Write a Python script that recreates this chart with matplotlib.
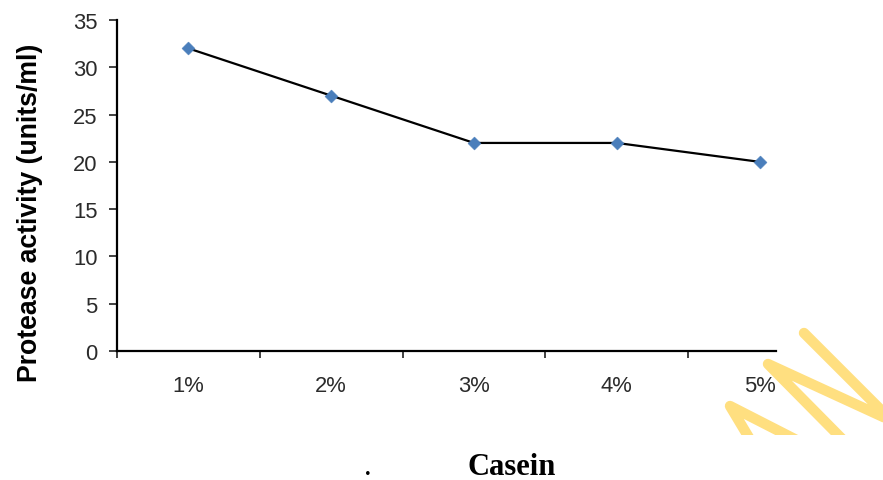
import matplotlib
matplotlib.use("Agg")
import matplotlib.pyplot as plt
from matplotlib.lines import Line2D
from matplotlib.patches import Rectangle
import numpy as np

categories = ["1%", "2%", "3%", "4%", "5%"]
activity = [32, 27, 22, 22, 20]
y_ticks = [0, 5, 10, 15, 20, 25, 30, 35]

W, H = 883, 481
fig = plt.figure(figsize=(W / 100, H / 100), dpi=100)

def fx(px):
    return px / W

def fy(py):
    return 1 - py / H

ax = fig.add_axes([fx(117), fy(352), fx(776) - fx(117), fy(21) - fy(352)])

diamond = [(0, 1), (1, 0), (0, -1), (-1, 0), (0, 1)]
x = np.arange(len(categories))
ax.plot(x, activity, color="black", lw=1.6, zorder=2)
ax.plot(x, activity, ls="none", marker=diamond, ms=9.4, color="#4A7EBB",
        markeredgecolor="#4A7EBB", markeredgewidth=0.3, zorder=3)

ax.set_ylim(0, 35)
ax.set_yticks(y_ticks)
ax.set_xlim(-0.5, 4.115)
ax.set_xticks(np.arange(-0.5, 4.0, 1.0))
ax.set_xticklabels([])
ax.set_xticks(x, minor=True)
ax.set_xticklabels(categories, minor=True)

for s in ["top", "right"]:
    ax.spines[s].set_visible(False)
for s in ["left", "bottom"]:
    ax.spines[s].set_linewidth(1.6)
    ax.spines[s].set_color("black")

ax.tick_params(axis="y", which="major", length=5.5, width=1.3, direction="out",
               pad=8.6, labelsize=15.8, labelcolor="#2b2b2b", color="#333333")
ax.tick_params(axis="x", which="major", length=5, width=1.3, direction="out",
               color="#333333")
ax.tick_params(axis="x", which="minor", length=0, pad=17, labelsize=15.8,
               labelcolor="#2b2b2b")
for lab in ax.get_yticklabels() + ax.get_xticklabels(minor=True):
    lab.set_family("Liberation Sans")

fig.text(fx(30), fy(213), "Protease activity (units/ml)", rotation=90,
         ha="center", va="center", fontsize=19.2, fontweight="bold",
         family="Liberation Sans", color="black")

fig.text(fx(512), fy(475), "Casein", ha="center", va="baseline",
         fontsize=22, fontweight="bold", family="Liberation Serif", color="black")
fig.text(fx(368), fy(475), ".", ha="center", va="baseline",
         fontsize=22, family="Liberation Serif", color="black")

# yellow watermark strokes (decoration), clipped at bottom band
clip = Rectangle((0, fy(436)), 1, 1, transform=fig.transFigure,
                 facecolor="none", edgecolor="none")
fig.add_artist(clip)
wm_color = "#FFDF80"
paths = [
    [(757, 452), (730, 407), (818, 452)],
    [(854, 452), (768, 365), (892, 422), (804, 334)],
]
for p in paths:
    xs = [fx(a) for a, b in p]
    ys = [fy(b) for a, b in p]
    ln = Line2D(xs, ys, transform=fig.transFigure, color=wm_color, lw=7.5,
                solid_capstyle="round", solid_joinstyle="round")
    fig.add_artist(ln)
    ln.set_clip_path(clip)

fig.savefig("out.png", dpi=100)
